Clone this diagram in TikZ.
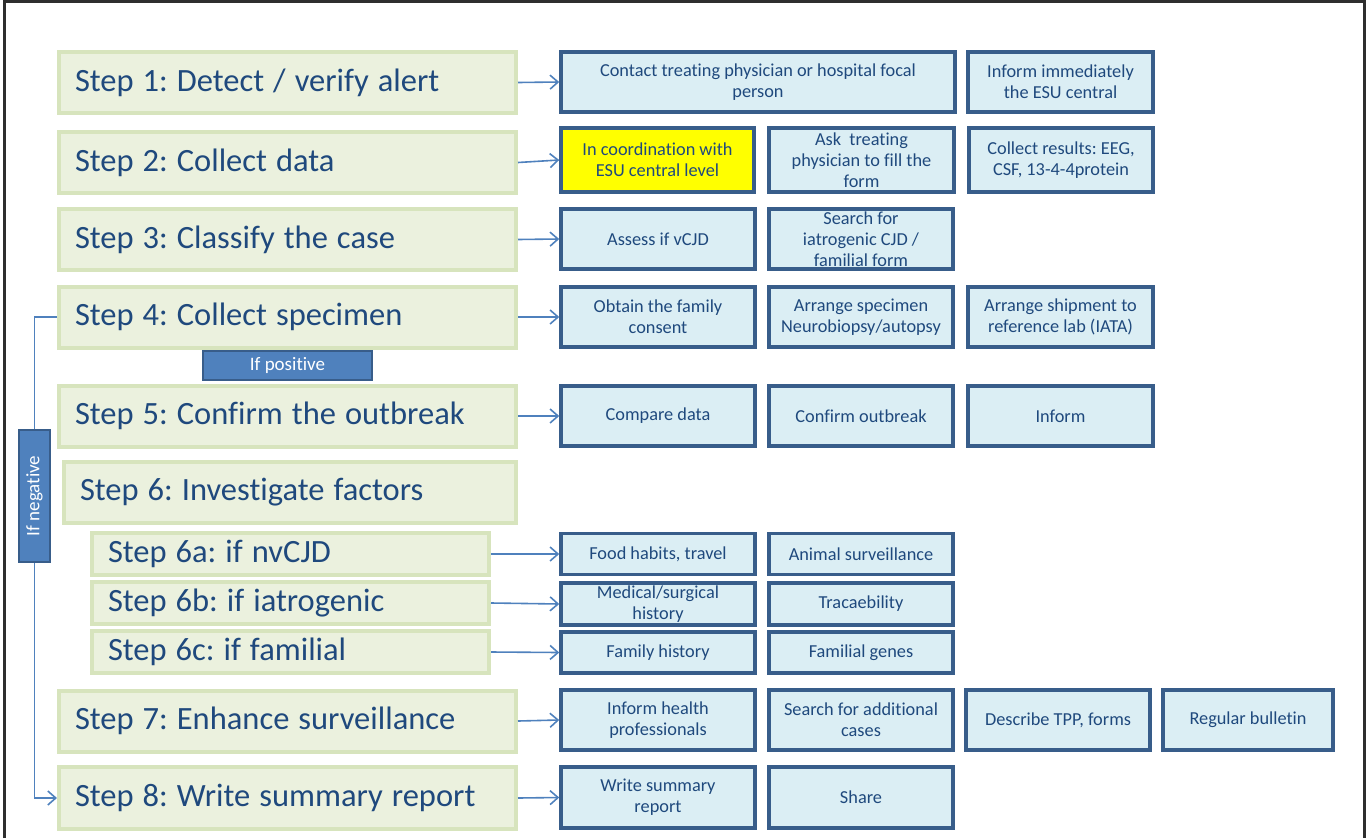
\documentclass[tikz,border=0pt]{standalone}
\usepackage{fontspec}
\setmainfont{Carlito}[Ligatures=NoCommon]
\usetikzlibrary{arrows.meta}

\definecolor{stepfill}{HTML}{EBF1DE}
\definecolor{stepline}{HTML}{D7E4BD}
\definecolor{navy}{HTML}{1F497D}
\definecolor{taskfill}{HTML}{DBEEF4}
\definecolor{taskline}{HTML}{385D8A}
\definecolor{flowblue}{HTML}{4F81BD}
\definecolor{tagfill}{HTML}{4F81BD}
\definecolor{tagline}{HTML}{385D8A}
\definecolor{framegray}{HTML}{2E2E2E}
\definecolor{highlight}{HTML}{FFFF00}

% step titles with fixed word spacing
\newcommand\steptext[1]{{\spaceskip=9pt\relax #1}}

\tikzset{
  stepbox/.style={draw=stepline, line width=4pt, fill=stepfill, text=navy,
    font=\fontsize{32.5}{36}\selectfont,
    anchor=west, align=left, inner xsep=16pt, inner ysep=0pt, minimum height=61pt},
  taskbox/.style={draw=taskline, line width=3.5pt, fill=taskfill, text=navy,
    font=\fontsize{18.3}{21}\selectfont, align=center, inner sep=2pt,
    minimum width=194pt, minimum height=60pt},
  tagbox/.style={draw=tagline, line width=2.5pt, fill=tagfill, text=white,
    font=\fontsize{19}{22}\selectfont, inner sep=0pt},
  flowline/.style={draw=flowblue, line width=1.6pt},
  flowarrow/.style={flowline, -{Straight Barb[length=8pt,width=14pt,line width=1.6pt]}}
}

\begin{document}
\frenchspacing
\begin{tikzpicture}[x=1pt, y=-1pt]
\useasboundingbox (0,0) rectangle (1370,838);

% outer frame, open at the bottom
\draw[framegray, line width=3pt] (4.5,838) -- (4.5,1.5) -- (1364,1.5) -- (1364,838);

% investigation steps
\node[stepbox, text width=425pt] (s1) at (57,82.5) {\steptext{Step 1: Detect / verify alert}};
\node[stepbox, text width=425pt] (s2) at (57,162.5) {\steptext{Step 2: Collect data}};
\node[stepbox, text width=425pt] (s3) at (57,239.5) {\steptext{Step 3: Classify the case}};
\node[stepbox, text width=425pt] (s4) at (57,317) {\steptext{Step 4: Collect specimen}};
\node[stepbox, text width=425pt] (s5) at (57,416) {\steptext{Step 5: Confirm the outbreak}};
\node[stepbox, text width=420pt] (s6) at (62,492.5) {\steptext{Step 6: Investigate factors}};
\node[stepbox, text width=365pt, minimum height=42pt] (s6a) at (90,554) {\steptext{Step 6a: if nvCJD}};
\node[stepbox, text width=365pt, minimum height=42pt] (s6b) at (90,603) {\steptext{Step 6b: if iatrogenic}};
\node[stepbox, text width=365pt, minimum height=42pt] (s6c) at (90,652) {\steptext{Step 6c: if familial}};
\node[stepbox, text width=425pt] (s7) at (57,721) {\steptext{Step 7: Enhance surveillance}};
\node[stepbox, text width=425pt, minimum height=62pt] (s8) at (57,798) {\steptext{Step 8: Write summary report}};

% branch labels
\node[tagbox, minimum width=169pt, minimum height=29pt] (pos) at (287.5,365.5) {If positive};
\node[tagbox, rotate=90, minimum width=132pt, minimum height=31pt] (neg) at (34.5,496) {If negative};

% actions per step
\node[taskbox, minimum width=394pt] (r1a) at (758,82) {Contact treating physician or hospital focal\\person};
\node[taskbox, minimum width=185pt] (r1b) at (1060.5,82) {Inform immediately\\the ESU central};

\node[taskbox, fill=highlight, minimum width=193pt, minimum height=64pt] (r2a) at (657.5,160) {In coordination with\\ESU central level};
\node[taskbox, minimum width=185pt, minimum height=64pt] (r2b) at (861.5,160) {Ask\ \ treating\\physician to fill the\\form};
\node[taskbox, minimum width=184pt, minimum height=64pt] (r2c) at (1061,160) {Collect results: EEG,\\CSF, 13-4-4protein};

\node[taskbox] (r3a) at (658,239) {Assess if vCJD};
\node[taskbox, minimum width=184pt] (r3b) at (861,239) {Search for\\iatrogenic CJD /\\familial form};

\node[taskbox] (r4a) at (658,317) {Obtain the family\\consent};
\node[taskbox, minimum width=184pt] (r4b) at (861,317) {Arrange specimen\\Neurobiopsy/autopsy};
\node[taskbox, minimum width=185pt] (r4c) at (1060.5,317) {Arrange shipment to\\reference lab (IATA)};

\node[taskbox] (r5a) at (658,416) {Compare data};
\node[taskbox, minimum width=184pt] (r5b) at (861,416) {Confirm outbreak};
\node[taskbox, minimum width=185pt] (r5c) at (1060.5,416) {Inform};

\node[taskbox, minimum height=41pt] (r6a1) at (658,554) {Food habits, travel};
\node[taskbox, minimum width=184pt, minimum height=41pt] (r6a2) at (861,554) {Animal surveillance};

\node[taskbox, minimum height=42pt] (r6b1) at (658,604) {Medical/surgical\\history};
\node[taskbox, minimum width=184pt, minimum height=42pt] (r6b2) at (861,604) {Tracaebility};

\node[taskbox, minimum height=41pt] (r6c1) at (658,652.5) {Family history};
\node[taskbox, minimum width=184pt, minimum height=41pt] (r6c2) at (861,652.5) {Familial genes};

\node[taskbox] (r7a) at (658,720) {Inform health\\professionals};
\node[taskbox, minimum width=184pt] (r7b) at (861,720) {Search for additional\\cases};
\node[taskbox, minimum width=184pt] (r7c) at (1058,720) {Describe TPP, forms};
\node[taskbox, minimum width=170pt] (r7d) at (1248,720) {Regular bulletin};

\node[taskbox, minimum height=61pt] (r8a) at (658,797.5) {Write summary\\report};
\node[taskbox, minimum width=184pt, minimum height=61pt] (r8b) at (861,797.5) {Share};

% step to first action
\draw[flowarrow] (s1.east) -- (r1a.west);
\draw[flowarrow] (s2.east) -- (r2a.west);
\draw[flowarrow] (s3.east) -- (r3a.west);
\draw[flowarrow] (s4.east) -- (r4a.west);
\draw[flowarrow] (s5.east) -- (r5a.west);
\draw[flowarrow] (s6a.east) -- (r6a1.west);
\draw[flowarrow] (s6b.east) -- (r6b1.west);
\draw[flowarrow] (s6c.east) -- (r6c1.west);
\draw[flowarrow] (s7.east) -- (r7a.west);
\draw[flowarrow] (s8.east) -- (r8a.west);

% negative result skips to the summary report
\draw[flowline] (s4.west) -| (neg.east);
\draw[flowarrow] (neg.west) |- (s8.west);
\end{tikzpicture}
\end{document}
